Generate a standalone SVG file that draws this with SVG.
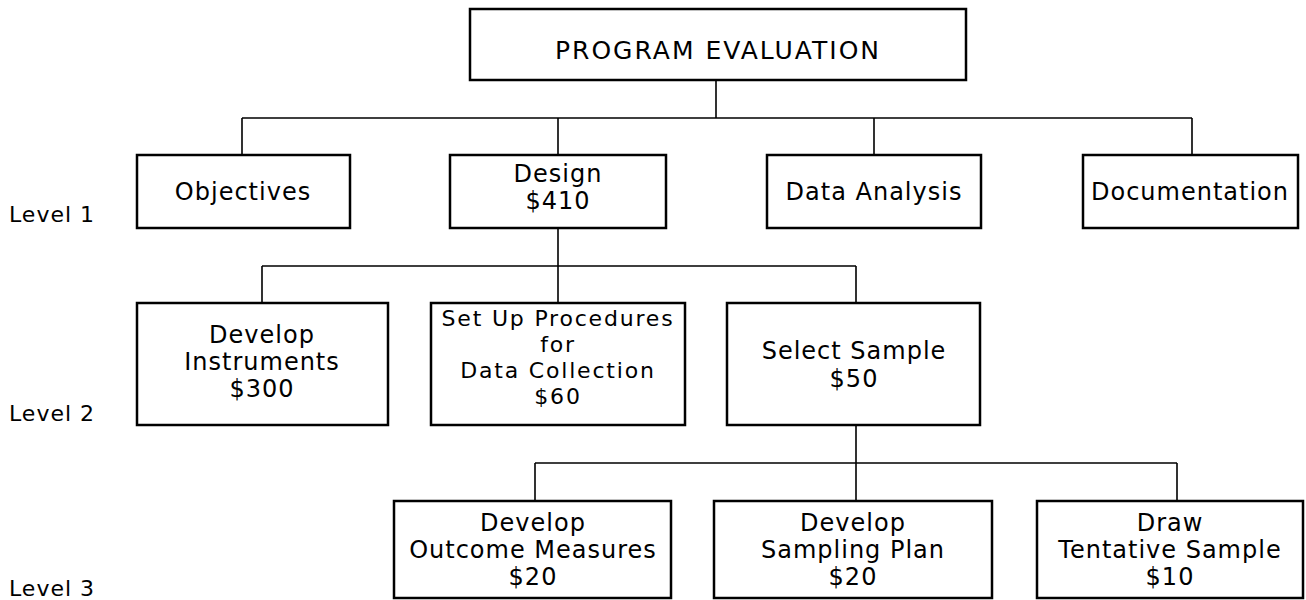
<svg xmlns="http://www.w3.org/2000/svg" width="1306" height="600" viewBox="0 0 1306 600">
<style>
.box{fill:#fff;stroke:#000;stroke-width:2.5}
.conn{fill:none;stroke:#000;stroke-width:1.6}
text{font-family:"DejaVu Sans","Liberation Sans",sans-serif;fill:#000;text-anchor:middle}
.t{font-size:24px;letter-spacing:1px}
.s{font-size:22px;letter-spacing:1.8px}
.title{font-size:25px;letter-spacing:2px}
.lvl{font-size:22px;letter-spacing:1px;text-anchor:start}
</style>
<rect width="1306" height="600" fill="#fff"/>
<g id="connectors">
<path class="conn" d="M716 80V118M242 118H1192M242 118V155M558 118V155M874 118V155M1192 118V155"/>
<path class="conn" d="M558 228V266M262 266H856M262 266V303M558 266V303M856 266V303"/>
<path class="conn" d="M856 425V463M535 463H1177M535 463V501M856 463V501M1177 463V501"/>
</g>
<g id="program-evaluation"><rect class="box" x="470" y="9" width="496" height="71"/><text class="title" x="718" y="59">PROGRAM EVALUATION</text></g>
<g id="objectives"><rect class="box" x="137" y="155" width="213" height="73"/><text class="t" x="243" y="200">Objectives</text></g>
<g id="design"><rect class="box" x="450" y="155" width="216" height="73"/><text class="t" x="558" y="182">Design</text><text class="t" x="558" y="209">$410</text></g>
<g id="data-analysis"><rect class="box" x="767" y="155" width="214" height="73"/><text class="t" x="874" y="200">Data Analysis</text></g>
<g id="documentation"><rect class="box" x="1083" y="155" width="215" height="73"/><text class="t" x="1190" y="200">Documentation</text></g>
<g id="develop-instruments"><rect class="box" x="137" y="303" width="251" height="122"/><text class="t" x="262" y="343">Develop</text><text class="t" x="262" y="370">Instruments</text><text class="t" x="262" y="397">$300</text></g>
<g id="set-up-procedures"><rect class="box" x="431" y="303" width="254" height="122"/><text class="s" x="558" y="326">Set Up Procedures</text><text class="s" x="558" y="352">for</text><text class="s" x="558" y="378">Data Collection</text><text class="s" x="558" y="404">$60</text></g>
<g id="select-sample"><rect class="box" x="727" y="303" width="253" height="122"/><text class="t" x="854" y="359">Select Sample</text><text class="t" x="854" y="387">$50</text></g>
<g id="develop-outcome-measures"><rect class="box" x="394" y="501" width="277" height="97"/><text class="t" x="533" y="531">Develop</text><text class="t" x="533" y="558">Outcome Measures</text><text class="t" x="533" y="585">$20</text></g>
<g id="develop-sampling-plan"><rect class="box" x="714" y="501" width="278" height="97"/><text class="t" x="853" y="531">Develop</text><text class="t" x="853" y="558">Sampling Plan</text><text class="t" x="853" y="585">$20</text></g>
<g id="draw-tentative-sample"><rect class="box" x="1037" y="501" width="266" height="97"/><text class="t" x="1170" y="531">Draw</text><text class="t" x="1170" y="558">Tentative Sample</text><text class="t" x="1170" y="585">$10</text></g>
<g id="level-labels"><text class="lvl" x="9" y="222">Level 1</text><text class="lvl" x="9" y="421">Level 2</text><text class="lvl" x="9" y="596">Level 3</text></g>
</svg>
